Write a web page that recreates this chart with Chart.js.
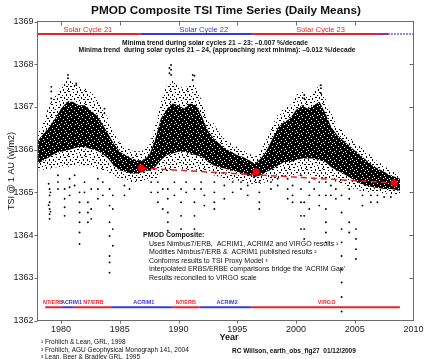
<!DOCTYPE html>
<html><head><meta charset="utf-8">
<script src="https://cdn.jsdelivr.net/npm/chart.js@4/dist/chart.umd.min.js"></script>
<style>html,body{margin:0;padding:0;background:#fff;}canvas{display:block;}</style>
</head><body>
<canvas id="c" width="433" height="359"></canvas>
<script>
// ---------------- DATA ----------------
const xTickYears = [1980, 1985, 1990, 1995, 2000, 2005, 2010];
const yTickValues = [1362, 1363, 1364, 1365, 1366, 1367, 1368, 1369];

// dense daily-means cloud: envelope
const bandYears = [1978.05,1979.0,1979.5,1980.0,1980.5,1981.0,1981.5,1982.0,1982.5,1983.0,
  1983.5,1984.0,1984.5,1985.0,1985.5,1986.0,1986.5,1987.0,1987.5,1988.0,
  1988.5,1989.0,1989.5,1990.0,1990.5,1991.0,1991.5,1992.0,1992.5,1993.0,
  1993.5,1994.0,1994.5,1995.0,1995.5,1996.0,1996.5,1997.0,1997.5,1998.0,
  1998.5,1999.0,1999.5,2000.0,2000.5,2001.0,2001.5,2002.0,2002.5,2003.0,
  2003.5,2004.0,2004.5,2005.0,2005.5,2006.0,2006.5,2007.0,2007.5,2008.0,
  2008.5,2008.85];
const coreTop = [1366.22,1366.53,1366.73,1366.96,1367.12,1367.12,1367.04,1367.04,1366.93,1366.81,
  1366.61,1366.38,1366.14,1365.95,1365.87,1365.79,1365.75,1365.75,1365.87,1366.22,
  1366.73,1366.96,1367.08,1367.04,1366.96,1367.08,1367.04,1366.77,1366.45,1366.26,
  1366.14,1366.02,1365.95,1365.87,1365.83,1365.75,1365.67,1365.79,1365.98,1366.26,
  1366.53,1366.65,1366.73,1366.93,1367.04,1366.96,1367.04,1367.12,1366.85,1366.53,
  1366.34,1366.22,1366.10,1365.98,1365.87,1365.75,1365.63,1365.55,1365.48,1365.40,
  1365.36,1365.32];
const coreBottom = [1365.67,1365.83,1365.91,1365.95,1365.98,1366.02,1366.06,1366.06,1366.02,1365.98,
  1365.91,1365.79,1365.63,1365.51,1365.48,1365.44,1365.44,1365.48,1365.51,1365.59,
  1365.75,1365.87,1365.91,1365.95,1365.95,1365.91,1365.87,1365.83,1365.71,1365.63,
  1365.59,1365.55,1365.51,1365.48,1365.44,1365.40,1365.36,1365.40,1365.48,1365.55,
  1365.63,1365.71,1365.71,1365.75,1365.79,1365.79,1365.79,1365.75,1365.71,1365.59,
  1365.51,1365.44,1365.36,1365.28,1365.20,1365.16,1365.12,1365.10,1365.08,1365.08,
  1365.06,1365.04];
const haloTop = [1366.38,1367.04,1367.28,1367.48,1367.63,1367.59,1367.48,1367.44,1367.36,1367.20,
  1367.00,1366.73,1366.38,1366.18,1366.06,1365.98,1365.95,1365.98,1366.10,1366.53,
  1367.12,1367.51,1367.67,1367.48,1367.44,1367.55,1367.48,1367.12,1366.73,1366.61,
  1366.38,1366.22,1366.14,1366.06,1365.98,1365.91,1365.83,1365.98,1366.26,1366.57,
  1366.85,1366.96,1367.04,1367.28,1367.36,1367.24,1367.36,1367.51,1367.20,1366.85,
  1366.53,1366.45,1366.30,1366.18,1366.06,1365.95,1365.83,1365.71,1365.63,1365.51,
  1365.48,1365.44];
const haloBottom = [1365.51,1365.55,1365.59,1365.59,1365.59,1365.63,1365.63,1365.63,1365.59,1365.55,
  1365.51,1365.48,1365.40,1365.32,1365.28,1365.24,1365.24,1365.28,1365.28,1365.32,
  1365.40,1365.48,1365.51,1365.55,1365.55,1365.51,1365.51,1365.48,1365.44,1365.40,
  1365.36,1365.32,1365.28,1365.28,1365.24,1365.20,1365.20,1365.20,1365.24,1365.28,
  1365.32,1365.36,1365.36,1365.40,1365.40,1365.40,1365.40,1365.36,1365.32,1365.28,
  1365.24,1365.16,1365.12,1365.08,1365.04,1365.00,1365.00,1364.99,1364.97,1364.97,
  1364.94,1364.97];

// isolated daily values outside the dense cloud [year, W/m2]
const outlierPoints = [
  [1978.95,1365.2],[1978.95,1364.7],[1979.03,1365.08],[1979.03,1364.93],[1979.03,1364.77],[1979.03,1364.61],[1979.03,1364.49],[1979.03,1364.38],[1979.1,1365.0],[1979.1,1364.55],
  [1979.74,1365.40],[1979.74,1365.24],[1979.74,1365.08],
  [1980.31,1365.08],[1980.31,1364.85],[1980.31,1364.65],[1980.31,1364.45],
  [1980.73,1365.32],[1980.73,1365.12],[1980.73,1364.93],
  [1981.16,1365.40],[1981.16,1365.16],
  [1981.58,1365.00],[1981.58,1364.77],[1981.58,1364.53],[1981.58,1364.30],[1981.58,1364.06],[1981.58,1363.79],
  [1982.0,1365.24],[1982.0,1365.00],
  [1982.29,1364.77],[1982.29,1364.53],[1982.29,1364.30],
  [1982.57,1365.08],[1982.57,1364.61],[1982.57,1364.38],
  [1983.14,1365.32],[1983.14,1365.08],[1983.14,1364.85],
  [1983.56,1365.24],[1983.56,1364.93],
  [1984.13,1365.08],[1984.13,1364.69],[1984.13,1364.30],[1984.13,1363.98],[1984.13,1363.51],[1984.13,1363.36],[1984.13,1363.12],
  [1984.41,1364.93],[1984.41,1364.61],[1984.41,1364.14],[1984.41,1363.75],
  [1985.4,1365.16],[1985.4,1364.93],[1985.83,1365.08],
  [1987.67,1365.24],[1987.67,1365.00],
  [1988.24,1365.24],[1988.24,1365.00],[1988.24,1364.77],
  [1988.66,1365.08],[1988.66,1364.61],
  [1989.09,1365.08],[1989.09,1364.85],[1989.09,1364.53],[1989.09,1364.30],[1989.09,1364.10],
  [1989.65,1365.24],[1989.65,1364.93],
  [1990.22,1365.08],[1990.22,1364.77],[1990.22,1364.45],[1990.22,1364.14],
  [1990.65,1365.24],[1990.65,1365.00],
  [1991.36,1365.08],[1991.36,1364.77],[1991.36,1364.45],[1991.36,1364.14],
  [1991.92,1365.24],[1991.92,1365.08],
  [1992.2,1364.93],[1992.2,1364.69],
  [1993.05,1365.24],[1993.05,1365.00],[1993.05,1364.77],[1993.05,1364.61],
  [1993.9,1365.16],[1993.9,1364.85],
  [1994.61,1365.24],[1994.61,1365.00],
  [1995.32,1365.24],[1995.32,1365.08],
  [1995.89,1365.16],[1995.89,1364.93],
  [1996.88,1365.24],[1996.88,1365.00],[1996.88,1364.77],[1996.88,1364.61],
  [1997.87,1365.24],[1997.87,1365.08],
  [1998.44,1365.32],[1998.44,1365.16],
  [1999.29,1365.32],[1999.29,1365.08],[1999.29,1364.85],
  [1999.71,1365.16],[1999.71,1364.93],[1999.71,1364.77],
  [2000.42,1365.40],[2000.42,1365.08],[2000.42,1364.77],[2000.42,1364.45],[2000.42,1364.14],
  [2000.7,1364.77],[2000.7,1364.45],[2000.7,1364.14],[2000.7,1363.91],
  [2001.13,1365.24],[2001.13,1364.93],[2001.13,1364.61],
  [2001.55,1365.32],[2001.55,1365.08],
  [2001.98,1365.24],[2001.98,1364.93],[2001.98,1364.69],
  [2002.54,1365.24],[2002.54,1364.93],[2002.54,1364.61],[2002.54,1364.30],[2002.54,1364.06],[2002.54,1363.83],
  [2002.97,1365.16],[2002.97,1364.93],
  [2003.39,1365.08],[2003.39,1364.85],
  [2003.88,1364.93],[2003.88,1364.53],[2003.88,1364.14],[2003.88,1363.83],[2003.88,1363.51],[2003.88,1363.20],[2003.88,1362.89],[2003.88,1362.55],[2003.88,1362.21],
  [2004.53,1365.08],[2004.53,1364.85],[2004.53,1364.30],[2004.53,1364.06],
  [2005.1,1364.14],[2005.1,1363.91],[2005.1,1363.67],[2005.1,1363.44],
  [2005.66,1364.93],[2005.66,1364.69],
  [2006.37,1364.93],[2006.37,1364.77],
  [2006.93,1364.93],[2006.93,1364.77],
  [2007.5,1364.89],[2008.07,1364.89],
  [1979.17,1367.47],[1979.17,1367.36],[1979.17,1367.20],
  [1980.59,1367.67],[1980.59,1367.75],
  [1981.3,1367.55],[1981.3,1367.51],
  [1983.7,1366.96],[1983.7,1366.85],
  [1989.23,1367.91],[1989.23,1367.79],
  [1989.37,1367.98],[1989.37,1367.87],[1989.37,1367.75],
  [1991.21,1367.75],[1991.21,1367.63],[1991.36,1367.73],
  [2000.14,1366.88],[2000.7,1367.28],[2000.7,1367.20],
  [2002.12,1367.51],[2002.12,1367.44],[2002.12,1367.32]
];

// solar minima (red dots) and trend
const minimaYears = [1986.82, 1996.59, 2008.35];
const minimaValues = [1365.57, 1365.48, 1365.22];

// solar cycle spans (top bar)
const cycleBounds = [1978.0, 1986.79, 1996.31, 2006.9, 2007.85, 2010.0];
const cycleNames = ['Solar Cycle 21', 'Solar Cycle 22', 'Solar Cycle 23'];
const cycleNameYears = [1982.29, 1992.15, 2002.09];

// instrument spans (bottom bar)
const instrBounds = [1978.66, 1980.08, 1981.02, 1984.24, 1989.5, 1991.8, 1996.2, 2008.84];
const instrNames = ['N7/ERB', 'ACRIM1', 'N7/ERB', 'ACRIM1', 'N7/ERB', 'ACRIM2', 'VIRGO'];
const instrNameYears = [1979.32, 1980.89, 1982.76, 1987.05, 1990.62, 1994.14, 2002.6];

// ---------------- STYLE ----------------
const RED = '#e4262c', BLUE = '#3a3ad8', PURPLE = '#a02a90';
const FONT = '"Liberation Sans", Arial, sans-serif';
const cycleLevel = 1368.71, instrLevel = 1362.31;

const cv = document.getElementById('c');
const c2 = cv.getContext('2d');
function makePattern(w, h, bg, dots, color) {
  const t = document.createElement('canvas'); t.width = w; t.height = h;
  const g = t.getContext('2d');
  if (bg) { g.fillStyle = bg; g.fillRect(0, 0, w, h); }
  g.fillStyle = color;
  dots.forEach(d => g.fillRect(d[0], d[1], d[2] || 1, d[3] || 1));
  return c2.createPattern(t, 'repeat');
}
const corePattern = makePattern(11, 9, '#000',
  [[1,1],[5,0],[8,2],[3,3],[10,4],[6,5],[0,6],[4,7],[9,7],[2,8]], '#fff');
const haloPattern = makePattern(17, 13, null,
  [[0,0,2,1],[5,1,1,1],[9,0,1,2],[13,1,2,1],[2,3,1,2],[7,3,2,1],[11,4,1,1],[15,3,1,2],[4,5,1,1],[0,6,1,1],
   [9,6,2,1],[13,6,1,2],[6,7,1,2],[2,8,2,1],[11,9,1,1],[15,8,2,1],[8,10,1,1],[0,10,1,2],[4,11,2,1],[12,11,1,2],[16,12,1,1]], '#000');

const pts = (xs, ys) => xs.map((x, i) => ({x, y: ys[i]}));
const band = arr => pts(bandYears, arr);
const level = (bounds, i, v) => [{x: bounds[i], y: v}, {x: bounds[i + 1], y: v}];

const datasets = [];
datasets.push({data: band(coreTop), fill: 1, backgroundColor: corePattern, borderWidth: 0, pointRadius: 0, order: 9});
datasets.push({data: band(coreBottom), fill: false, borderWidth: 0, pointRadius: 0, order: 9});
datasets.push({data: band(haloTop), fill: 0, backgroundColor: haloPattern, borderWidth: 0, pointRadius: 0, order: 10});
datasets.push({data: band(haloBottom), fill: 1, backgroundColor: haloPattern, borderWidth: 0, pointRadius: 0, order: 10});
datasets.push({data: outlierPoints.map(p => ({x: p[0], y: p[1]})), showLine: false, pointRadius: 0.95,
  pointBackgroundColor: '#000', pointBorderWidth: 0, order: 5});
const cycleColors = [RED, BLUE, RED, PURPLE, BLUE];
for (let i = 0; i < cycleBounds.length - 1; i++) {
  datasets.push({data: level(cycleBounds, i, cycleLevel), borderColor: cycleColors[i], borderWidth: i === 4 ? 1.5 : 2,
    borderDash: i === 4 ? [1.5, 1.5] : [], pointRadius: 0, fill: false, order: 3});
}
for (let i = 0; i < instrBounds.length - 1; i++) {
  datasets.push({data: level(instrBounds, i, instrLevel), borderColor: instrNames[i].startsWith('ACRIM') ? BLUE : RED,
    borderWidth: 2, pointRadius: 0, fill: false, order: 3});
}
datasets.push({data: [{x: minimaYears[0], y: minimaValues[0]}, {x: minimaYears[2], y: minimaValues[2]}],
  borderColor: RED, borderWidth: 1.5, borderDash: [6, 4], pointRadius: 0, fill: false, order: 2});
datasets.push({data: pts(minimaYears, minimaValues), showLine: false, pointRadius: 3.6,
  pointBackgroundColor: '#f00', pointBorderWidth: 0, order: 1});

const deco = {
  id: 'deco',
  afterDraw(chart) {
    const {ctx, chartArea: a, scales: {x, y}} = chart;
    ctx.save();
    ctx.strokeStyle = '#6a6a6a'; ctx.lineWidth = 1;
    ctx.strokeRect(a.left, a.top, a.right - a.left, a.bottom - a.top);
    ctx.beginPath();
    yTickValues.forEach(v => {
      const py = Math.round(y.getPixelForValue(v)) + 0.5;
      ctx.moveTo(a.left - 3, py); ctx.lineTo(a.left, py);
      if (v > 1362 && v < 1369) { ctx.moveTo(a.right - 4, py); ctx.lineTo(a.right, py); }
    });
    xTickYears.forEach(v => {
      const px = Math.round(x.getPixelForValue(v)) + 0.5;
      if (v < 2010) {
        ctx.moveTo(px, a.top); ctx.lineTo(px, a.top + 4);
        ctx.moveTo(px, a.bottom); ctx.lineTo(px, a.bottom + 3);
      }
    });
    ctx.stroke();

    ctx.fillStyle = '#111';
    ctx.textBaseline = 'middle';
    ctx.textAlign = 'center';
    ctx.font = 'bold 11.8px ' + FONT;
    ctx.fillText('PMOD Composite TSI Time Series (Daily Means)', 226, 11);
    ctx.font = 'bold 9px ' + FONT;
    ctx.fillText('Year', 229, 338);
    ctx.save();
    ctx.translate(12, (a.top + a.bottom) / 2);
    ctx.rotate(-Math.PI / 2);
    ctx.font = '9px ' + FONT;
    ctx.fillText('TSI @ 1 AU (w/m2)', 0, 0);
    ctx.restore();

    ctx.font = 'bold 6.7px ' + FONT;
    ctx.fillText('Minima trend during solar cycles 21 \u2013 23: \u20130.007 %/decade', 215, 43);
    ctx.fillText('Minima trend  during solar cycles 21 \u2013 24, (approaching next minima): \u20130.012 %/decade', 217, 50);

    ctx.font = '7.5px ' + FONT;
    const cyCol = [RED, BLUE, RED];
    cycleNames.forEach((n, i) => {
      ctx.fillStyle = cyCol[i];
      ctx.fillText(n, x.getPixelForValue(cycleNameYears[i]), y.getPixelForValue(cycleLevel) - 4);
    });
    ctx.font = 'bold 5.5px ' + FONT;
    instrNames.forEach((n, i) => {
      ctx.fillStyle = n.startsWith('ACRIM') ? BLUE : RED;
      ctx.fillText(n, x.getPixelForValue(instrNameYears[i]), y.getPixelForValue(instrLevel) - 4.5);
    });

    ctx.fillStyle = '#111';
    ctx.textAlign = 'left';
    ctx.font = 'bold 7px ' + FONT;
    ctx.fillText('PMOD Composite:', 143, 235);
    ctx.font = '7px ' + FONT;
    const lines = ['Uses Nimbus7/ERB,  ACRIM1, ACRIM2 and VIRGO results \u00b9',
      'Modifies Nimbus7/ERB &  ACRIM1 published results \u00b2',
      'Conforms results to TSI Proxy Model \u00b3',
      "Interpolated ERBS/ERBE comparisons bridge the 'ACRIM Gap'",
      'Results reconciled to VIRGO scale'];
    lines.forEach((l, i) => ctx.fillText(l, 149, 244 + i * 8.5));

    ctx.font = '6.5px ' + FONT;
    ctx.fillText('\u00b9 Frohlich & Lean, GRL, 1998', 41, 342);
    ctx.fillText('\u00b2 Frohlich, AGU Geophysical Monograph 141, 2004', 41, 350);
    ctx.fillText('\u00b3 Lean, Beer & Bradley GRL, 1995', 41, 357.5);
    ctx.font = 'bold 6.5px ' + FONT;
    ctx.fillText('RC Willson, earth_obs_fig27  01/12/2009', 232, 351);
    ctx.restore();
  }
};

new Chart(cv, {
  type: 'line',
  data: {datasets},
  options: {
    responsive: false, animation: false, devicePixelRatio: 1,
    layout: {padding: {left: 0, right: 19.5, top: 21.5, bottom: 0}},
    plugins: {legend: {display: false}, tooltip: {enabled: false}, title: {display: false}},
    elements: {line: {tension: 0}},
    scales: {
      x: {type: 'linear', min: 1978, max: 2010,
        grid: {display: false, drawTicks: false}, border: {display: false},
        afterBuildTicks: s => { s.ticks = xTickYears.map(v => ({value: v})); },
        afterFit: s => { s.height = 38.5; },
        ticks: {padding: 4, autoSkip: false, maxRotation: 0, color: '#222',
          font: {family: FONT, size: 9}, callback: v => String(v)}},
      y: {type: 'linear', min: 1362, max: 1369,
        grid: {display: false, drawTicks: false}, border: {display: false},
        afterBuildTicks: s => { s.ticks = yTickValues.map(v => ({value: v})); },
        afterFit: s => { s.width = 37.5; },
        ticks: {padding: 4, color: '#222', font: {family: FONT, size: 9}, callback: v => String(v)}}
    }
  },
  plugins: [deco]
});
</script>
</body></html>
